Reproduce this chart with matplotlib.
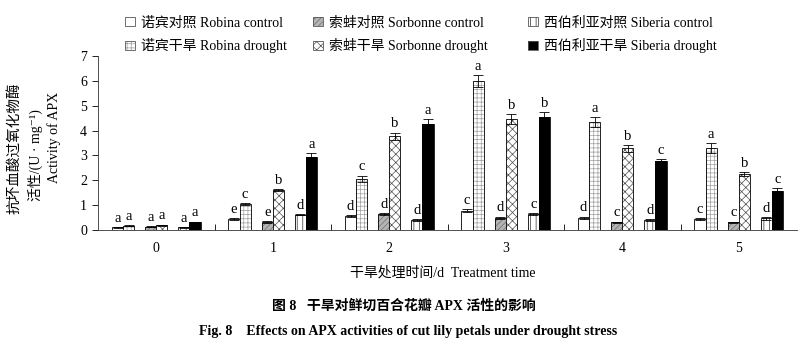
import matplotlib.pyplot as plt
import numpy as np
from matplotlib.patches import Patch
from matplotlib.legend_handler import HandlerTuple

plt.rcParams['hatch.linewidth'] = 0.5

SERIF = ['Liberation Serif', 'Noto Sans CJK SC', 'DejaVu Serif']

days = ['0', '1', '2', '3', '4', '5']

robina_ctrl = [0.11, 0.45, 0.57, 0.78, 0.49, 0.45]
robina_drought = [0.17, 1.05, 2.07, 6.00, 4.35, 3.28]
sorbonne_ctrl = [0.13, 0.33, 0.64, 0.49, 0.31, 0.31]
sorbonne_drought = [0.20, 1.60, 3.77, 4.48, 3.28, 2.25]
siberia_ctrl = [0.11, 0.62, 0.40, 0.64, 0.40, 0.47]
siberia_drought = [0.32, 2.94, 4.28, 4.55, 2.77, 1.57]

robina_ctrl_err = [0.02, 0.03, 0.05, 0.05, 0.05, 0.03]
robina_drought_err = [0.02, 0.05, 0.12, 0.25, 0.20, 0.20]
sorbonne_ctrl_err = [0.02, 0.03, 0.05, 0.05, 0.03, 0.03]
sorbonne_drought_err = [0.02, 0.05, 0.15, 0.20, 0.15, 0.08]
siberia_ctrl_err = [0.02, 0.03, 0.03, 0.05, 0.03, 0.05]
siberia_drought_err = [0.02, 0.15, 0.18, 0.20, 0.10, 0.10]

robina_ctrl_sig = ['a', 'e', 'd', 'c', 'd', 'c']
robina_drought_sig = ['a', 'c', 'c', 'a', 'a', 'a']
sorbonne_ctrl_sig = ['a', 'e', 'd', 'd', 'c', 'c']
sorbonne_drought_sig = ['a', 'b', 'b', 'b', 'b', 'b']
siberia_ctrl_sig = ['a', 'd', 'd', 'c', 'd', 'd']
siberia_drought_sig = ['a', 'a', 'a', 'b', 'c', 'c']

labels = ['诺宾对照 Robina control', '诺宾干旱 Robina drought',
          '索蚌对照 Sorbonne control', '索蚌干旱 Sorbonne drought',
          '西伯利亚对照 Siberia control', '西伯利亚干旱 Siberia drought']

series = [
    (robina_ctrl, robina_ctrl_err, robina_ctrl_sig),
    (robina_drought, robina_drought_err, robina_drought_sig),
    (sorbonne_ctrl, sorbonne_ctrl_err, sorbonne_ctrl_sig),
    (sorbonne_drought, sorbonne_drought_err, sorbonne_drought_sig),
    (siberia_ctrl, siberia_ctrl_err, siberia_ctrl_sig),
    (siberia_drought, siberia_drought_err, siberia_drought_sig),
]

# face, hatch, hatch colour for each series
styles = [
    ('white', None, 'black'),
    ('white', '++++', '#a0a0a0'),
    ('#b4b4b4', '//////', '#6e6e6e'),
    ('white', 'xxxx', '#505050'),
    ('white', '|||', '#303030'),
    ('black', None, 'black'),
]

w = 0.095
pair_off = [-0.285, 0.0, 0.285]
x = np.arange(len(days))

fig = plt.figure(figsize=(8, 3.42), dpi=100)
ax = fig.add_axes([98 / 800, 1 - 230 / 342, (797 - 98) / 800, 174 / 342])

handles = []
for i, ((vals, err, sig), (fc, hatch, hc)) in enumerate(zip(series, styles)):
    pos = x + pair_off[i // 2] + (w / 2 if i % 2 else -w / 2)
    ax.bar(pos, vals, w, color=fc, hatch=hatch, edgecolor=hc, linewidth=0)
    ax.bar(pos, vals, w, color='none', edgecolor='black', linewidth=0.6)
    ax.errorbar(pos, vals, yerr=err, fmt='none', ecolor='black',
                elinewidth=0.6, capsize=3.5, capthick=0.6)
    for p, v, e, s in zip(pos, vals, err, sig):
        ax.annotate(s, (p, v + e), xytext=(0, 1.5), textcoords='offset points',
                    ha='center', va='bottom', fontsize=10.5, family=SERIF)
    handles.append((Patch(facecolor=fc, hatch=hatch, edgecolor=hc, linewidth=0),
                    Patch(facecolor='none', edgecolor='#555555', linewidth=0.6)))

ax.set_xlim(-0.5, 5.5)
ax.set_ylim(0, 7)
ax.set_yticks(range(8))
ax.set_xticks(x)
ax.set_xticklabels(days, family=SERIF, fontsize=10)
ax.set_xticks(np.arange(0.5, 5.0, 1.0), minor=True)
ax.tick_params(axis='x', which='major', length=0, pad=9)
ax.tick_params(axis='x', which='minor', direction='in', length=4, width=0.6)
ax.tick_params(axis='y', direction='out', length=4, width=0.6, pad=4)
for t in ax.get_yticklabels():
    t.set_family(SERIF)
    t.set_fontsize(10)
for s in ['top', 'right']:
    ax.spines[s].set_visible(False)
for s in ['left', 'bottom']:
    ax.spines[s].set_linewidth(0.6)
    ax.spines[s].set_color('#333333')

# one legend per cultivar column
for col, left in enumerate([125, 313, 528]):
    fig.legend(handles[2 * col:2 * col + 2], labels[2 * col:2 * col + 2],
               handler_map={tuple: HandlerTuple(ndivide=1, pad=0)},
               loc='upper left', bbox_to_anchor=(left / 800, 1 - 16 / 342),
               frameon=False, prop={'family': SERIF, 'size': 10},
               handlelength=0.7, handleheight=0.7, handletextpad=0.45,
               labelspacing=0.65, borderpad=0, borderaxespad=0)

# stacked y-axis title
fig.text(14 / 800, 1 - 148 / 342, '抗坏血酸过氧化物酶', rotation=90,
         ha='center', va='center', family=SERIF, fontsize=10.5)
fig.text(35 / 800, 1 - 155 / 342, '活性/(U · mg⁻¹)', rotation=90,
         ha='center', va='center', family=SERIF, fontsize=10)
fig.text(54 / 800, 1 - 137 / 342, 'Activity of APX', rotation=90,
         ha='center', va='center', family=SERIF, fontsize=10)

fig.text(443 / 800, 1 - 273 / 342, '干旱处理时间/d  Treatment time',
         ha='center', va='center', family=SERIF, fontsize=10)
fig.text(404 / 800, 1 - 306 / 342, '图 8   干旱对鲜切百合花瓣 APX 活性的影响',
         ha='center', va='center', family=SERIF, fontsize=10, fontweight='bold')
fig.text(408 / 800, 1 - 331 / 342,
         'Fig. 8    Effects on APX activities of cut lily petals under drought stress',
         ha='center', va='center', family=SERIF, fontsize=10, fontweight='bold')

fig.savefig('out.png', dpi=100)
